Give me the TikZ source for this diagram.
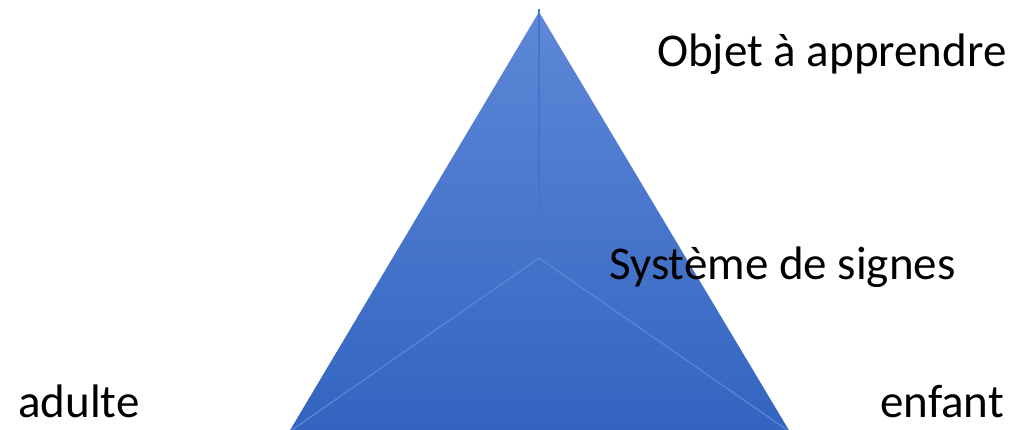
\documentclass[tikz,border=0pt]{standalone}
\usepackage{fontspec}
\setmainfont{Carlito}
\usepackage{tikz}
\usetikzlibrary{positioning}
\definecolor{pyrtop}{RGB}{94,136,216}
\definecolor{pyrbot}{RGB}{50,100,192}
\definecolor{ridgedark}{RGB}{72,115,204}
\definecolor{ridgelight}{RGB}{92,134,214}

\begin{document}
\begin{tikzpicture}[x=1pt, y=-1pt,
  lbl/.style={inner sep=0pt, anchor=base west, font=\fontsize{47}{56}\selectfont},
  ridge/.style={line width=1.2pt}]
\useasboundingbox (0,0) rectangle (1020,430);
% Pyramid
\coordinate (apex) at (539,12);
\coordinate (cornl) at (289,432);
\coordinate (cornr) at (790,432);
\coordinate (mid) at (539,258);
\coordinate (tip) at (539,9);
\shade[top color=pyrtop, bottom color=pyrbot] (apex) -- (cornl) -- (cornr) -- cycle;
\draw[ridge, ridgedark] (mid) -- (tip);
\draw[ridge, ridgelight] (mid) -- (cornl);
\draw[ridge, ridgelight] (mid) -- (cornr);
% Labels
\node[lbl] (obj) at (657,67) {Objet à apprendre};
\node[lbl] (sys) at (609,280) {Système de signes};
\node[lbl] (adu) at (18,417) {adulte};
\node[lbl] (enf) at (880,417) {enfant};
\end{tikzpicture}
\end{document}
